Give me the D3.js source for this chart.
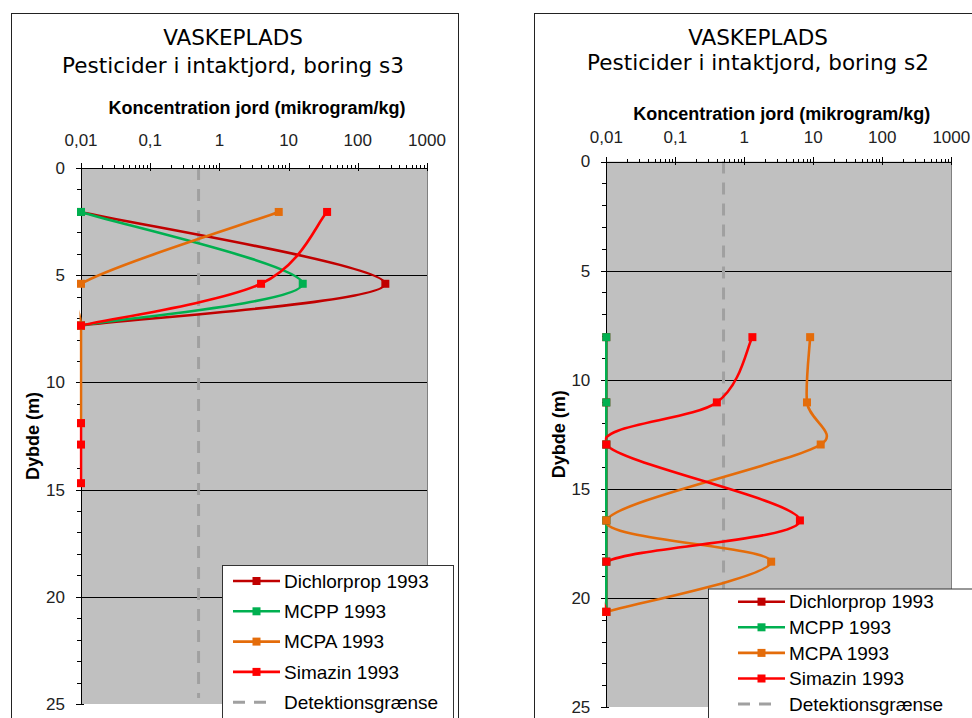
<!DOCTYPE html>
<html>
<head>
<meta charset="utf-8">
<script src="https://cdnjs.cloudflare.com/ajax/libs/d3/7.8.5/d3.min.js"></script>
<style>
  body { margin: 0; background: #fff; }
  svg { display: block; }
</style>
</head>
<body>
<svg id="chart" width="972" height="718"></svg>
<script>
// series names / colours
var seriesNames = ["Dichlorprop 1993", "MCPP 1993", "MCPA 1993", "Simazin 1993"];
var seriesColors = ["#c00000", "#00b050", "#e46c0a", "#ff0000"];
var detectionName = "Detektionsgrænse";
var detectionLimit = 0.5; // mikrogram/kg

// axis ticks
var xTickValues = [0.01, 0.1, 1, 10, 100, 1000];
var xTickLabels = ["0,01", "0,1", "1", "10", "100", "1000"];
var yTickValues = [0, 5, 10, 15, 20, 25];

// boring s3 - depth (m) and concentration (mikrogram/kg), null = gap in line
var s3DichlorpropDepth = [2.05, 5.4, 7.35];
var s3DichlorpropConc = [0.01, 250, 0.01];
var s3McppDepth = [2.05, 5.4, 7.35];
var s3McppConc = [0.01, 16, 0.01];
var s3McpaDepth = [2.05, 5.4, 7.35, 11.9];
var s3McpaConc = [7.2, 0.01, 0.01, 0.01];
var s3SimazinDepth = [2.05, 5.4, 7.35, null, 11.9, 12.9, 14.7];
var s3SimazinConc = [36, 4, 0.01, null, 0.01, 0.01, 0.01];

// boring s2
var s2Depth = [8.05, 11.04, 12.97, 16.45, 18.34, 20.64];
var s2DichlorpropConc = [0.01, 0.01, 0.01, 0.01, 0.01, 0.01];
var s2McppConc = [0.01, 0.01, 0.01, 0.01, 0.01, 0.01];
var s2McpaConc = [9, 8.1, 12.8, 0.01, 2.45, 0.01];
var s2SimazinConc = [1.31, 0.4, 0.01, 6.4, 0.01, 0.01];

function zipPoints(depths, concs) {
    return depths.map(function (d, i) {
        return d == null ? null : { depth: d, conc: concs[i] };
    });
}

// excel-like smoothed line (bezier, tangents capped to half the segment)
function smoothPath(pts) {
    var path = d3.path();
    var runs = [], cur = [];
    pts.forEach(function (p) {
        if (p == null) { if (cur.length) runs.push(cur); cur = []; }
        else cur.push(p);
    });
    if (cur.length) runs.push(cur);
    function dist(a, b) { return Math.hypot(b[0] - a[0], b[1] - a[1]); }
    runs.forEach(function (r) {
        path.moveTo(r[0][0], r[0][1]);
        for (var i = 0; i < r.length - 1; i++) {
            var p0 = r[i - 1] || r[i], p1 = r[i], p2 = r[i + 1], p3 = r[i + 2] || r[i + 1];
            var d12 = dist(p1, p2), d02 = dist(p0, p2), d13 = dist(p1, p3);
            var f1 = (d02 / 6 < d12 / 2) ? 1 / 6 : d12 / (2 * d02);
            var f2 = (d13 / 6 < d12 / 2) ? 1 / 6 : d12 / (2 * d13);
            path.bezierCurveTo(
                p1[0] + (p2[0] - p0[0]) * f1, p1[1] + (p2[1] - p0[1]) * f1,
                p2[0] - (p3[0] - p1[0]) * f2, p2[1] - (p3[1] - p1[1]) * f2,
                p2[0], p2[1]);
        }
    });
    return path.toString();
}

var panels = [
    {
        boring: "s3",
        frame: [11, 13, 447, 760],
        plot: { left: 81, right: 427, top: 168, bottom: 704 },
        titleX: 233, titleY: [37, 65],
        axisTitleY: 108, tickY: 140,
        series: [
            zipPoints(s3DichlorpropDepth, s3DichlorpropConc),
            zipPoints(s3McppDepth, s3McppConc),
            zipPoints(s3McpaDepth, s3McpaConc),
            zipPoints(s3SimazinDepth, s3SimazinConc)
        ],
        legend: { x: 222, y: 565, w: 231, h: 200, first: 581, step: 30.3, lineX: 233, textX: 284 }
    },
    {
        boring: "s2",
        frame: [534, 13, 460, 760],
        plot: { left: 606.3, right: 951.3, top: 161.5, bottom: 707 },
        titleX: 758, titleY: [37, 62],
        axisTitleY: 114, tickY: 137,
        series: [
            zipPoints(s2Depth, s2DichlorpropConc),
            zipPoints(s2Depth, s2McppConc),
            zipPoints(s2Depth, s2McpaConc),
            zipPoints(s2Depth, s2SimazinConc)
        ],
        legend: { x: 708, y: 588.5, w: 280, h: 200, first: 601.7, step: 25.6, lineX: 738, textX: 789 }
    }
];

var svg = d3.select("#chart");
var defs = svg.append("defs");

panels.forEach(function (p, pi) {
    var g = svg.append("g");

    var x = d3.scaleLog().domain([0.01, 1000]).range([p.plot.left, p.plot.right]);
    var y = d3.scaleLinear().domain([0, 25]).range([p.plot.top, p.plot.bottom]);

    // clip for the series (plot area, small margin so lines on the axis stay visible)
    defs.append("clipPath").attr("id", "clip" + pi).append("rect")
        .attr("x", p.plot.left - 1.5).attr("y", p.plot.top - 6)
        .attr("width", p.plot.right - p.plot.left + 3)
        .attr("height", p.plot.bottom - p.plot.top + 6);

    // outer frame
    g.append("rect")
        .attr("x", p.frame[0] + 0.5).attr("y", p.frame[1] + 0.5)
        .attr("width", p.frame[2]).attr("height", p.frame[3])
        .attr("fill", "#fff").attr("stroke", "#222");

    // titles
    g.append("text")
        .attr("x", p.titleX).attr("y", p.titleY[0]).attr("dy", "0.35em")
        .attr("text-anchor", "middle")
        .style("font-family", "DejaVu Sans").style("font-size", "21.5px")
        .text("VASKEPLADS");
    g.append("text")
        .attr("x", p.titleX).attr("y", p.titleY[1]).attr("dy", "0.35em")
        .attr("text-anchor", "middle")
        .style("font-family", "DejaVu Sans").style("font-size", "21.5px")
        .text("Pesticider i intaktjord, boring " + p.boring);

    // plot area
    g.append("rect")
        .attr("x", p.plot.left).attr("y", p.plot.top)
        .attr("width", p.plot.right - p.plot.left)
        .attr("height", p.plot.bottom - p.plot.top)
        .attr("fill", "#c0c0c0");
    g.append("line")
        .attr("x1", Math.round(p.plot.right) + 0.5).attr("x2", Math.round(p.plot.right) + 0.5)
        .attr("y1", p.plot.top).attr("y2", p.plot.bottom)
        .attr("stroke", "#808080");

    // horizontal gridlines
    g.selectAll(".grid").data(yTickValues.slice(1, -1)).enter().append("line")
        .attr("x1", p.plot.left).attr("x2", p.plot.right)
        .attr("y1", function (d) { return Math.round(y(d)) + 0.5; })
        .attr("y2", function (d) { return Math.round(y(d)) + 0.5; })
        .attr("stroke", "#000").attr("stroke-width", 1);

    // detection limit
    g.append("line")
        .attr("x1", x(detectionLimit)).attr("x2", x(detectionLimit))
        .attr("y1", p.plot.top).attr("y2", p.plot.bottom - 6)
        .attr("stroke", "#a0a0a0").attr("stroke-width", 3)
        .attr("stroke-dasharray", "12,9");

    // top x axis
    var axisX = g.append("g").attr("stroke", "#000").attr("shape-rendering", "crispEdges");
    var yTop = Math.round(p.plot.top) + 0.5;
    axisX.append("line")
        .attr("x1", p.plot.left).attr("x2", p.plot.right)
        .attr("y1", yTop).attr("y2", yTop);
    var minorX = [];
    xTickValues.slice(0, -1).forEach(function (v) {
        for (var k = 2; k <= 9; k++) minorX.push(v * k);
    });
    axisX.selectAll(".mx").data(minorX).enter().append("line")
        .attr("x1", function (d) { return Math.round(x(d)) + 0.5; })
        .attr("x2", function (d) { return Math.round(x(d)) + 0.5; })
        .attr("y1", yTop - 4).attr("y2", yTop);
    axisX.selectAll(".Mx").data(xTickValues).enter().append("line")
        .attr("x1", function (d) { return Math.round(x(d)) + 0.5; })
        .attr("x2", function (d) { return Math.round(x(d)) + 0.5; })
        .attr("y1", yTop - 6).attr("y2", yTop + 2);

    g.selectAll(".xl").data(xTickValues).enter().append("text")
        .attr("x", function (d) { return x(d); })
        .attr("y", p.tickY).attr("dy", "0.35em")
        .attr("text-anchor", "middle")
        .style("font-family", "Liberation Sans, Arial").style("font-size", "17px")
        .attr("fill", "#222")
        .text(function (d, i) { return xTickLabels[i]; });

    g.append("text")
        .attr("x", (p.plot.left + p.plot.right) / 2 + 3).attr("y", p.axisTitleY).attr("dy", "0.35em")
        .attr("text-anchor", "middle")
        .style("font-family", "Liberation Sans, Arial").style("font-size", "18px")
        .style("font-weight", "bold")
        .text("Koncentration jord (mikrogram/kg)");

    // left y axis
    var axisY = g.append("g").attr("stroke", "#000").attr("shape-rendering", "crispEdges");
    var xLeft = Math.round(p.plot.left) + 0.5;
    axisY.append("line")
        .attr("x1", xLeft).attr("x2", xLeft)
        .attr("y1", p.plot.top).attr("y2", p.plot.bottom);
    axisY.selectAll(".my").data(d3.range(0, 26)).enter().append("line")
        .attr("x1", xLeft - 5).attr("x2", xLeft)
        .attr("y1", function (d) { return Math.round(y(d)) + 0.5; })
        .attr("y2", function (d) { return Math.round(y(d)) + 0.5; });
    axisY.selectAll(".My").data(yTickValues).enter().append("line")
        .attr("x1", xLeft - 6).attr("x2", xLeft + 2)
        .attr("y1", function (d) { return Math.round(y(d)) + 0.5; })
        .attr("y2", function (d) { return Math.round(y(d)) + 0.5; });

    g.selectAll(".yl").data(yTickValues).enter().append("text")
        .attr("x", p.plot.left - 16)
        .attr("y", function (d) { return y(d); }).attr("dy", "0.35em")
        .attr("text-anchor", "end")
        .style("font-family", "Liberation Sans, Arial").style("font-size", "17px")
        .attr("fill", "#222")
        .text(function (d) { return d; });

    var yMid = (p.plot.top + p.plot.bottom) / 2;
    g.append("text")
        .attr("transform", "translate(" + (p.plot.left - 48) + "," + yMid + ") rotate(-90)")
        .attr("dy", "0.35em")
        .attr("text-anchor", "middle")
        .style("font-family", "Liberation Sans, Arial").style("font-size", "18px")
        .style("font-weight", "bold")
        .text("Dybde (m)");

    // series (drawn over the axes, clipped to plot area)
    var seriesG = g.append("g").attr("clip-path", "url(#clip" + pi + ")");
    p.series.forEach(function (pts, i) {
        var px = pts.map(function (d) { return d == null ? null : [x(d.conc), y(d.depth)]; });
        seriesG.append("path")
            .attr("d", smoothPath(px))
            .attr("fill", "none")
            .attr("stroke", seriesColors[i])
            .attr("stroke-width", 2.6);
        g.selectAll(".m" + i).data(pts.filter(function (d) { return d != null; }))
            .enter().append("rect")
            .attr("x", function (d) { return x(d.conc) - 4; })
            .attr("y", function (d) { return y(d.depth) - 4; })
            .attr("width", 8).attr("height", 8)
            .attr("fill", seriesColors[i]);
    });

    // legend
    var L = p.legend;
    var lg = g.append("g");
    lg.append("rect")
        .attr("x", L.x + 0.5).attr("y", L.y + 0.5)
        .attr("width", L.w).attr("height", L.h)
        .attr("fill", "#fff").attr("stroke", "#333");
    var items = seriesNames.concat([detectionName]);
    items.forEach(function (name, i) {
        var cy = L.first + i * L.step;
        if (i < seriesNames.length) {
            lg.append("line")
                .attr("x1", L.lineX).attr("x2", L.lineX + 47)
                .attr("y1", cy).attr("y2", cy)
                .attr("stroke", seriesColors[i]).attr("stroke-width", 2.6);
            lg.append("rect")
                .attr("x", L.lineX + 23.5 - 4).attr("y", cy - 4)
                .attr("width", 8).attr("height", 8)
                .attr("fill", seriesColors[i]);
        } else {
            lg.append("line")
                .attr("x1", L.lineX).attr("x2", L.lineX + 35)
                .attr("y1", cy).attr("y2", cy)
                .attr("stroke", "#a0a0a0").attr("stroke-width", 3)
                .attr("stroke-dasharray", "12,9");
        }
        lg.append("text")
            .attr("x", L.textX).attr("y", cy).attr("dy", "0.35em")
            .style("font-family", "Liberation Sans, Arial").style("font-size", "19px")
            .text(name);
    });
});
</script>
</body>
</html>
